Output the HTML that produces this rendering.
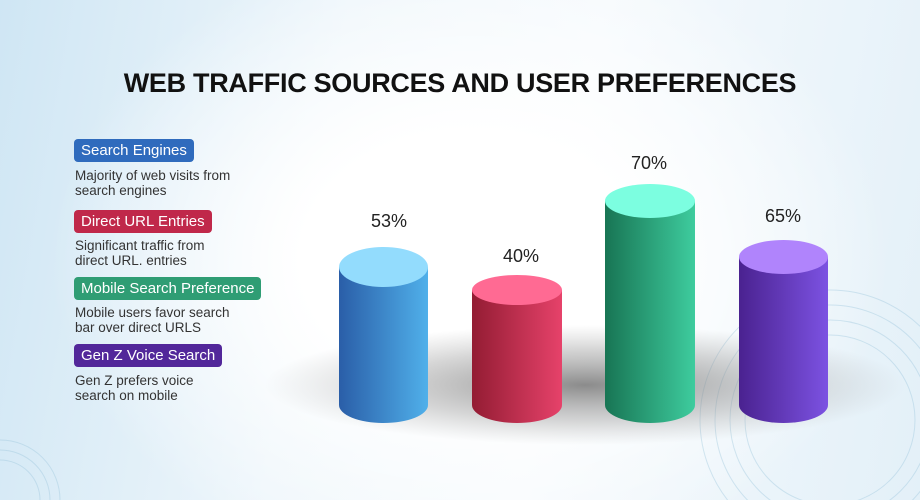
<!DOCTYPE html>
<html><head><meta charset="utf-8"><style>
html,body{margin:0;width:920px;height:500px;overflow:hidden}
#c{position:relative;width:920px;height:500px;overflow:hidden;font-family:"Liberation Sans",sans-serif;
background:radial-gradient(ellipse 420px 320px at 470px 260px,#ffffff 40%,rgba(255,255,255,0) 100%),linear-gradient(100deg,#cfe6f4 0%,#eef6fb 35%,#f6fafd 60%,#e3f0f8 100%);}
h1{position:absolute;left:0;width:920px;top:68px;margin:0;text-align:center;font-size:27px;font-weight:bold;color:#111;letter-spacing:-0.3px}
.b{position:absolute;left:74px;height:23px;line-height:23px;padding:0 7px;border-radius:4px;color:#fff;font-size:15px}
.d{position:absolute;left:75px;font-size:13.5px;line-height:15px;color:#333}
.p{position:absolute;font-size:18px;color:#222}
</style></head><body><div id="c">
<h1>WEB TRAFFIC SOURCES AND USER PREFERENCES</h1>
<div class="b" style="top:139px;background:#2f6bbd">Search Engines</div>
<div class="d" style="top:168px">Majority of web visits from<br>search engines</div>
<div class="b" style="top:210px;background:#c0284a">Direct URL Entries</div>
<div class="d" style="top:238px">Significant traffic from<br>direct URL. entries</div>
<div class="b" style="top:277px;background:#2f9d74">Mobile Search Preference</div>
<div class="d" style="top:305px">Mobile users favor search<br>bar over direct URLS</div>
<div class="b" style="top:344px;background:#52279a">Gen Z Voice Search</div>
<div class="d" style="top:373px">Gen Z prefers voice<br>search on mobile</div>
<svg width="920" height="500" style="position:absolute;left:0;top:0">
<defs>
<radialGradient id="sh" cx="0.5" cy="0.5" r="0.5"><stop offset="0" stop-color="#777" stop-opacity="0.85"/><stop offset="0.6" stop-color="#999" stop-opacity="0.4"/><stop offset="1" stop-color="#aaa" stop-opacity="0"/></radialGradient>
<linearGradient id="g1"><stop offset="0" stop-color="#2a5ea8"/><stop offset="1" stop-color="#50b0ea"/></linearGradient>
<linearGradient id="g2"><stop offset="0" stop-color="#931c33"/><stop offset="1" stop-color="#e6426a"/></linearGradient>
<linearGradient id="g3"><stop offset="0" stop-color="#187554"/><stop offset="1" stop-color="#3ecc9e"/></linearGradient>
<linearGradient id="g4"><stop offset="0" stop-color="#4a2290"/><stop offset="1" stop-color="#7c52e2"/></linearGradient>
</defs>
<g fill="none" stroke="#9cc6dc" stroke-opacity="0.4">
<circle cx="830" cy="420" r="130"/><circle cx="830" cy="420" r="115"/><circle cx="830" cy="420" r="100"/><circle cx="830" cy="420" r="85"/>
<circle cx="0" cy="500" r="60"/><circle cx="0" cy="500" r="50"/><circle cx="0" cy="500" r="40"/>
</g>
<ellipse cx="585" cy="385" rx="320" ry="60" fill="url(#sh)"/>
<path d="M339 267 V405 A44.5 18 0 0 0 428 405 V267 Z" fill="url(#g1)"/><ellipse cx="383.5" cy="267" rx="44.5" ry="20" fill="#93dcfd"/>
<path d="M472 290 V405 A45 18 0 0 0 562 405 V290 Z" fill="url(#g2)"/><ellipse cx="517" cy="290" rx="45" ry="15" fill="#ff6a93"/>
<path d="M605 201 V405 A45 18 0 0 0 695 405 V201 Z" fill="url(#g3)"/><ellipse cx="650" cy="201" rx="45" ry="17" fill="#7cfee0"/>
<path d="M739 257 V405 A44.5 18 0 0 0 828 405 V257 Z" fill="url(#g4)"/><ellipse cx="783.5" cy="257" rx="44.5" ry="17" fill="#b084fc"/>
</svg>
<div class="p" style="left:371px;top:211px">53%</div>
<div class="p" style="left:503px;top:246px">40%</div>
<div class="p" style="left:631px;top:153px">70%</div>
<div class="p" style="left:765px;top:206px">65%</div>
</div></body></html>
